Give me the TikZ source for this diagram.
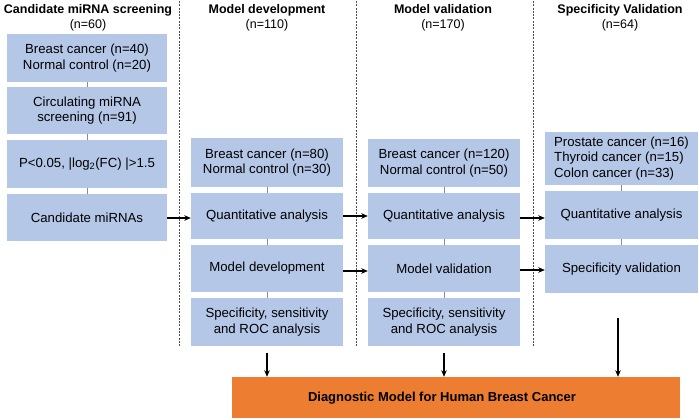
\documentclass[tikz,border=0pt]{standalone}
\usepackage{fontspec}
\setmainfont{Liberation Sans}
\usetikzlibrary{arrows.meta}
\definecolor{boxblue}{HTML}{B4C7E7}
\definecolor{boxorange}{HTML}{ED7D31}
\definecolor{tickgray}{HTML}{8C8C8C}
\tikzset{
  stepbox/.style={fill=boxblue, draw=none, inner sep=0pt, align=center, font=\fontsize{13.2}{15.5}\selectfont},
  titletext/.style={align=center, font=\fontsize{12.5}{15}\selectfont, inner sep=0pt},
  sep/.style={draw=black!70, dashed, dash pattern=on 2pt off 1.3pt, line width=0.7pt},
  tick/.style={draw=tickgray, line width=0.6pt},
  arr/.style={draw=black, line width=1.2pt, -{Stealth[length=6.5pt,width=5.5pt]}}
}
\newcommand{\bx}[7][]{\node[stepbox, minimum width=#5-#3, minimum height=#6-#4, #1] (#2) at ({(#3+#5)/2},{(#4+#6)/2}) {#7};}
\begin{document}
\begin{tikzpicture}[x=1pt,y=-1pt]
\useasboundingbox (0,0) rectangle (699,420);
% titles
\node[titletext] (t1) at (88,18) {\textbf{Candidate miRNA screening}\\(n=60)};
\node[titletext] (t2) at (267,18) {\textbf{Model development}\\(n=110)};
\node[titletext] (t3) at (443,18) {\textbf{Model validation}\\(n=170)};
\node[titletext] (t4) at (620,18) {\textbf{Specificity Validation}\\(n=64)};
% dashed separators
\coordinate (s1a) at (179,1); \coordinate (s1b) at (179,347);
\coordinate (s2a) at (356,1); \coordinate (s2b) at (356,347);
\coordinate (s3a) at (533,1); \coordinate (s3b) at (533,347);
\draw[sep] (s1a) -- (s1b);
\draw[sep] (s2a) -- (s2b);
\draw[sep] (s3a) -- (s3b);
% column 1
\bx{a1}{7}{34}{167}{82}{Breast cancer (n=40)\\Normal control (n=20)}
\bx{a2}{7}{87}{167}{134}{Circulating miRNA\\screening (n=91)}
\bx{a3}{7}{140}{167}{188}{P<0.05, |log\textsubscript{2}(FC) |>1.5}
\bx{a4}{7}{194}{167}{241}{Candidate miRNAs}
% column 2
\bx{b1}{191}{138}{343}{187}{Breast cancer (n=80)\\Normal control (n=30)}
\bx{b2}{191}{193}{343}{239}{Quantitative analysis}
\bx{b3}{191}{245}{343}{292}{Model development}
\bx{b4}{191}{298}{343}{346}{Specificity, sensitivity\\and ROC analysis}
% column 3
\bx{c1}{368}{139}{520}{187}{Breast cancer (n=120)\\Normal control (n=50)}
\bx{c2}{368}{193}{520}{239}{Quantitative analysis}
\bx{c3}{368}{245}{520}{292}{Model validation}
\bx{c4}{368}{298}{520}{346}{Specificity, sensitivity\\and ROC analysis}
% column 4
\bx[align=left]{d1}{545}{132}{698}{185}{Prostate cancer (n=16)\\Thyroid cancer (n=15)\\Colon cancer (n=33)}
\bx{d2}{545}{191}{698}{239}{Quantitative analysis}
\bx{d3}{545}{245}{698}{293}{Specificity validation}
% bottom
\node[fill=boxorange, inner sep=0pt, minimum width=448, minimum height=41] (z) at (456,397.5) {};
\node[font=\bfseries\fontsize{13}{15}\selectfont, inner sep=0pt] (zt) at (442,398) {Diagnostic Model for Human Breast Cancer};
% ticks
\foreach \p/\q in {a1/a2,a2/a3,a3/a4,b1/b2,b2/b3,b3/b4,c1/c2,c2/c3,c3/c4,d1/d2,d2/d3}
  \draw[tick] (\p.south) -- (\q.north);
% horizontal arrows
\draw[arr] (a4.east |- 0,218) -- (b2.west |- 0,218);
\draw[arr] (b2.east |- 0,216) -- (c2.west |- 0,216);
\draw[arr] (b3.east |- 0,271) -- (c3.west |- 0,271);
\draw[arr] (c2.east |- 0,218) -- (d2.west |- 0,218);
\draw[arr] (c3.east |- 0,270) -- (d3.west |- 0,270);
% down arrows
\coordinate (dd) at (618,318);
\draw[arr] ([yshift=-7pt]b4.south) -- (z.north -| b4.south);
\draw[arr] ([yshift=-7pt]c4.south) -- (z.north -| c4.south);
\draw[arr] (dd) -- (z.north -| dd);
\end{tikzpicture}
\end{document}
